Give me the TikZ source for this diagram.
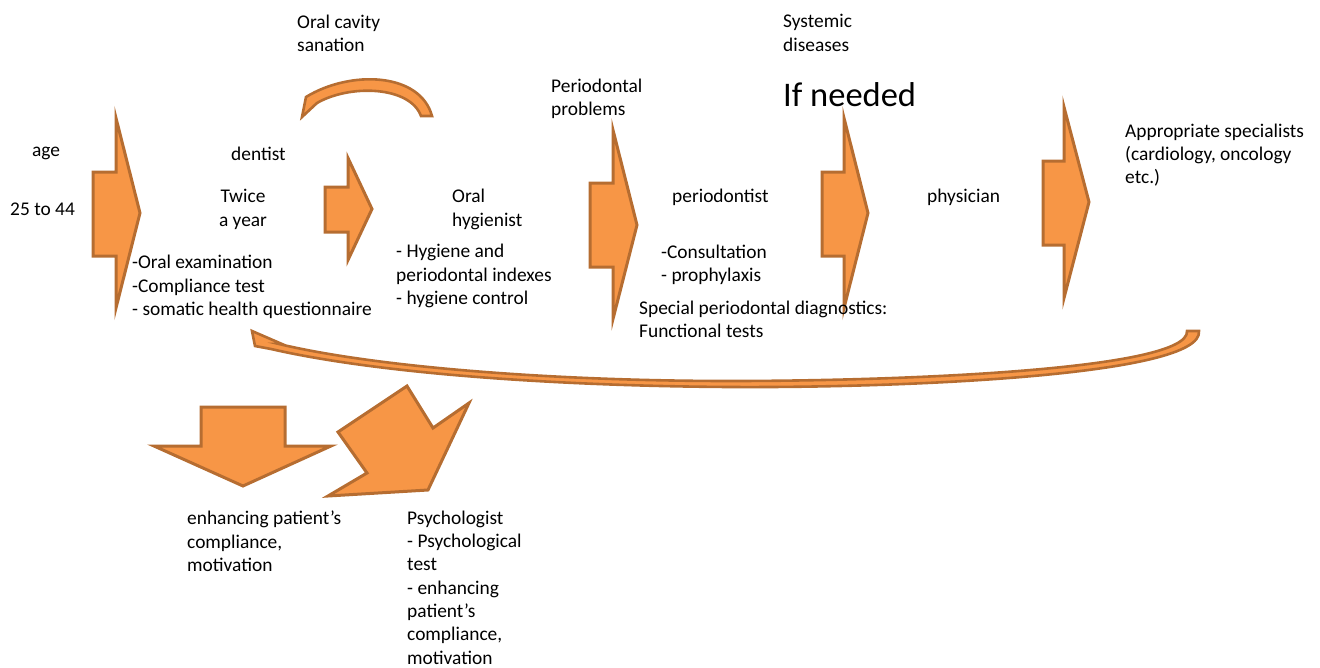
\documentclass[tikz,border=0pt]{standalone}
\usepackage{fontspec}
\setmainfont{Carlito}
\definecolor{orfill}{HTML}{F79646}
\definecolor{orline}{HTML}{B66D31}
\begin{document}
\begin{tikzpicture}[x=1pt,y=-1pt,
  blk/.style={fill=orfill,draw=orline,line width=3pt,line join=miter},
  txt/.style={font=\fontsize{19.4}{23.3}\selectfont,inner sep=0pt,align=left,anchor=west,yshift=-1.5pt},
  big/.style={font=\fontsize{34.5}{40}\selectfont,inner sep=0pt,anchor=west}]
\useasboundingbox (0,0) rectangle (1320,667);
% right block arrows
\draw[blk] (93,172) -- (116,172) -- (116,118) -- (140,213) -- (116,308) -- (116,256) -- (93,256) -- cycle;
\draw[blk] (325,187) -- (348,187) -- (348,158) -- (372,209) -- (348,260) -- (348,232) -- (325,232) -- cycle;
\draw[blk] (590,183) -- (613,183) -- (613,130) -- (637,225) -- (613,319) -- (613,267) -- (590,267) -- cycle;
\draw[blk] (822,172) -- (844,172) -- (844,118) -- (868,213) -- (844,308) -- (844,256) -- (822,256) -- cycle;
\draw[blk] (1043,161) -- (1064,161) -- (1064,107) -- (1089,202) -- (1064,298) -- (1064,245) -- (1043,245) -- cycle;
% top curved arrow
\draw[blk,line width=2.6pt] (302,117) -- (306,97) .. controls (350,70) and (420,72) .. (432,116) -- (421,116) .. controls (410,86) and (350,84) .. (317,103) -- cycle;
% bottom curved arrow
\draw[blk,line width=2.6pt] (1199,331) .. controls (1204,376) and (900,388) .. (730,387)
  .. controls (560,386) and (380,374) .. (271,349) -- (255,346) -- (252,331) -- (282,344) -- (279,344)
  .. controls (380,368) and (560,381) .. (730,381) .. controls (900,381) and (1190,370) .. (1187,331) -- cycle;
% down arrow
\draw[blk] (201,407) -- (285,407) -- (285,446) -- (331,446) -- (243,486) -- (154,446) -- (201,446) -- cycle;
% rotated arrow
\draw[blk] (338,432) -- (407,386) -- (433,428) -- (469,403) -- (428,490) -- (328,496) -- (367,473) -- cycle;
% texts
\node[txt] (age) at (32,152) {age};
\node[txt] (range) at (10,208) {25 to 44};
\node[txt] (san) at (297,31.5) {Oral cavity\\sanation};
\node[txt] (dent) at (231,152) {dentist};
\node[txt,align=center,anchor=center] (twice) at (243,208) {Twice\\a year};
\node[txt] (l1) at (132,285.5) {-Oral examination\\-Compliance test\\- somatic health questionnaire};
\node[txt] (hyg) at (452,208) {Oral\\hygienist};
\node[txt] (l2) at (396,274.5) {- Hygiene and\\periodontal indexes\\- hygiene control};
\node[txt] (pp) at (551,97.5) {Periodontal\\problems};
\node[txt] (perio) at (672,196) {periodontist};
\node[txt] (l3) at (661,263) {-Consultation\\- prophylaxis};
\node[txt] (spec) at (639,318) {Special periodontal diagnostics:\\Functional tests};
\node[txt] (sys) at (783,31.5) {Systemic\\diseases};
\node[big] (ifn) at (783,95) {If needed};
\node[txt] (phys) at (927,196) {physician};
\node[txt] (appr) at (1125,153.5) {Appropriate specialists\\(cardiology, oncology\\etc.)};
\node[txt] (enh) at (187,540) {enhancing patient’s\\compliance,\\motivation};
\node[txt] (psy) at (407,586) {Psychologist\\- Psychological\\test\\- enhancing\\patient’s\\compliance,\\motivation};
\end{tikzpicture}
\end{document}
